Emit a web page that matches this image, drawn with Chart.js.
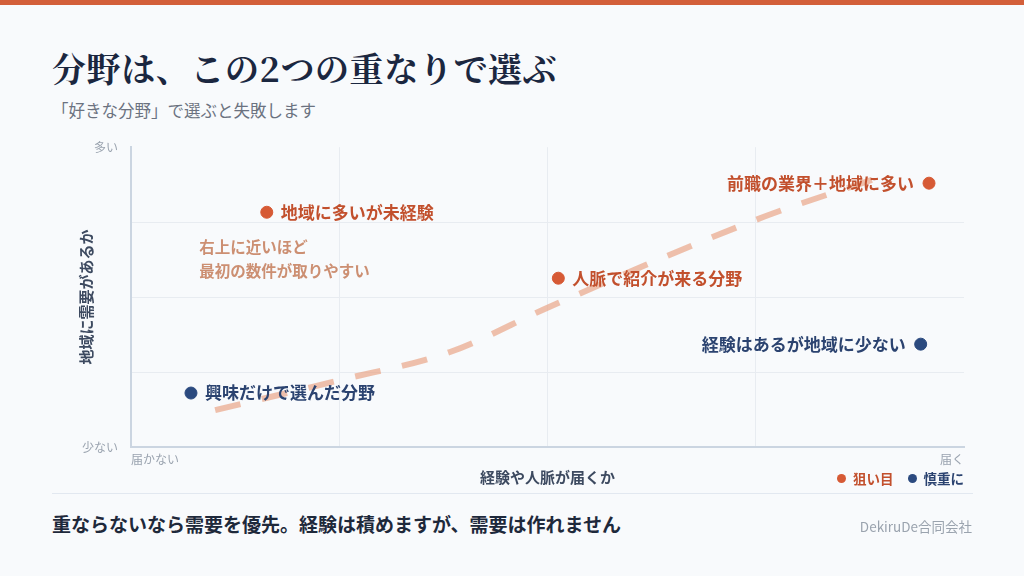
<!DOCTYPE html>
<html lang="ja">
<head>
<meta charset="utf-8">
<script src="https://cdn.jsdelivr.net/npm/chart.js@4"></script>
<style>
  html, body { margin: 0; padding: 0; }
  body {
    width: 1024px; height: 576px; position: relative; overflow: hidden;
    background: #f8fafc;
    font-family: "Noto Sans CJK JP", "Noto Sans", sans-serif;
  }
  .topbar { position: absolute; left: 0; top: 0; width: 1024px; height: 5px; background: #d35f3a; }
  h1 {
    position: absolute; left: 52px; top: 43px; margin: 0;
    font-family: "Noto Serif CJK JP", "DejaVu Serif", serif;
    font-size: 34px; font-weight: 700; color: #1b2740; letter-spacing: 0.6px;
  }
  .sub { position: absolute; left: 52px; top: 98px; font-size: 16.5px; color: #6b7280; }
  #wrap { position: absolute; left: 52px; top: 127px; width: 920px; height: 363px; }
  .legend { position: absolute; right: 60px; top: 468px; font-size: 13.5px; font-weight: 700; display: flex; gap: 14px; }
  .legend span { display: flex; align-items: center; }
  .legend i { display: inline-block; width: 9px; height: 9px; border-radius: 50%; margin-right: 7px; }
  .rule { position: absolute; left: 52px; top: 493px; width: 921px; height: 1px; background: #e2e8f0; }
  .foot { position: absolute; left: 52px; top: 510px; font-size: 19px; font-weight: 700; color: #1e293b; }
  .corp { position: absolute; right: 52px; top: 516px; font-size: 13.5px; color: #9aa3ae; }
</style>
</head>
<body>
<div class="topbar"></div>
<h1>分野は、この2つの重なりで選ぶ</h1>
<div class="sub">「好きな分野」で選ぶと失敗します</div>
<div id="wrap"><canvas id="chart"></canvas></div>
<div class="legend">
  <span style="color:#c2502d"><i style="background:#d65a35"></i>狙い目</span>
  <span style="color:#2b4370"><i style="background:#2b4a7f"></i>慎重に</span>
</div>
<div class="rule"></div>
<div class="foot">重ならないなら需要を優先。経験は積めますが、需要は作れません</div>
<div class="corp">DekiruDe合同会社</div>
<script>
// positions on a 0-100 scale (x = 経験や人脈, y = 需要)
const targetNames = ['地域に多いが未経験', '人脈で紹介が来る分野', '前職の業界＋地域に多い'];
const targetX = [16.3, 51.3, 95.8];
const targetY = [78.3, 56.3, 88.0];

const cautionNames = ['興味だけで選んだ分野', '経験はあるが地域に少ない'];
const cautionX = [7.2, 94.8];
const cautionY = [18.0, 34.3];

// overlap trend curve
const trendX = [10.1, 25.1, 38.3, 50.2, 75.9, 89.9];
const trendY = [12.3, 22.3, 31.7, 46.7, 76.7, 90.0];

const xTickLabels = { 0: '届かない', 100: '届く' };
const yTickLabels = { 0: '少ない', 100: '多い' };
const noteLines = ['右上に近いほど', '最初の数件が取りやすい'];

const FONT = '"Noto Sans CJK JP", "Noto Sans", sans-serif';

function toPoints(xs, ys) {
  return xs.map((x, i) => ({ x: x, y: ys[i] }));
}

// Draw the point labels and the note text
const labelPlugin = {
  id: 'pointLabels',
  afterDatasetsDraw(chart) {
    const ctx = chart.ctx;
    ctx.save();
    ctx.font = '700 17px ' + FONT;
    ctx.textBaseline = 'middle';
    chart.data.datasets.forEach((ds, di) => {
      if (!ds.names) return;
      const meta = chart.getDatasetMeta(di);
      meta.data.forEach((pt, i) => {
        ctx.fillStyle = ds.textColor;
        if (ds.data[i].x > 80) {
          ctx.textAlign = 'right';
          ctx.fillText(ds.names[i], pt.x - 15, pt.y);
        } else {
          ctx.textAlign = 'left';
          ctx.fillText(ds.names[i], pt.x + 14, pt.y);
        }
      });
    });

    // note in the upper-left area
    const xs = chart.scales.x, ys = chart.scales.y;
    ctx.font = '700 15.5px ' + FONT;
    ctx.fillStyle = '#cc8f72';
    ctx.textAlign = 'left';
    ctx.fillText(noteLines[0], xs.getPixelForValue(8.2), ys.getPixelForValue(66.7));
    ctx.fillText(noteLines[1], xs.getPixelForValue(8.2), ys.getPixelForValue(58.7));
    ctx.restore();
  }
};

const gridColor = c => (c.tick && c.tick.value === 100) ? 'rgba(0,0,0,0)' : '#e8ecf1';

new Chart(document.getElementById('chart'), {
  type: 'scatter',
  data: {
    datasets: [
      {
        label: '狙い目',
        names: targetNames,
        textColor: '#c2502d',
        data: toPoints(targetX, targetY),
        backgroundColor: '#d65a35',
        borderColor: '#d65a35',
        pointRadius: 6,
        order: 1
      },
      {
        label: '慎重に',
        names: cautionNames,
        textColor: '#2b4370',
        data: toPoints(cautionX, cautionY),
        backgroundColor: '#2b4a7f',
        borderColor: '#2b4a7f',
        pointRadius: 6,
        order: 1
      },
      {
        type: 'line',
        label: 'trend',
        data: toPoints(trendX, trendY),
        borderColor: 'rgba(232, 160, 128, 0.65)',
        borderWidth: 6,
        borderDash: [26, 22],
        borderCapStyle: 'butt',
        pointRadius: 0,
        cubicInterpolationMode: 'monotone',
        fill: false,
        order: 2
      }
    ]
  },
  options: {
    responsive: true,
    maintainAspectRatio: false,
    animation: false,
    layout: { padding: { top: 4, right: 8, bottom: 0, left: 0 } },
    plugins: {
      legend: { display: false },
      tooltip: { enabled: false }
    },
    scales: {
      x: {
        min: 0, max: 100,
        afterFit: s => { s.height = 43; },
        border: { color: '#cbd5e1', width: 2 },
        grid: { color: gridColor, drawTicks: false },
        ticks: {
          stepSize: 25,
          autoSkip: false,
          maxRotation: 0,
          align: 'inner',
          padding: 5,
          color: '#9aa3af',
          font: { family: FONT, size: 12 },
          callback: v => xTickLabels[v] || ''
        },
        title: {
          display: true,
          text: '経験や人脈が届くか',
          color: '#3d4a60',
          font: { family: FONT, size: 15, weight: '700' },
          padding: { top: 0, bottom: 4 }
        }
      },
      y: {
        min: 0, max: 100,
        afterFit: s => { s.width = 79; },
        border: { color: '#cbd5e1', width: 2 },
        grid: { color: gridColor, drawTicks: false },
        ticks: {
          stepSize: 25,
          autoSkip: false,
          padding: 13,
          color: '#9aa3af',
          font: { family: FONT, size: 12 },
          callback: v => yTickLabels[v] || ''
        },
        title: {
          display: true,
          text: '地域に需要があるか',
          color: '#3d4a60',
          font: { family: FONT, size: 15, weight: '700' },
          padding: { top: 25, bottom: 0 }
        }
      }
    }
  },
  plugins: [labelPlugin]
});
</script>
</body>
</html>
